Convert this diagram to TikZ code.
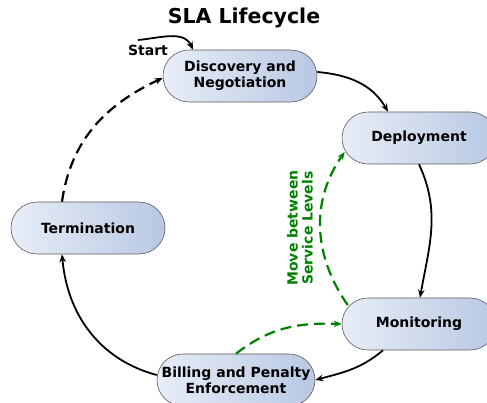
\documentclass[tikz,border=0pt]{standalone}
\usepackage{fontspec}
\setmainfont{DejaVu Sans}
\usetikzlibrary{arrows.meta,calc}
\definecolor{boxleft}{RGB}{232,237,247}
\definecolor{boxright}{RGB}{184,200,227}
\definecolor{boxline}{RGB}{90,90,90}
\definecolor{lvlgreen}{RGB}{0,128,0}
\tikzset{
  phase/.style={rectangle, rounded corners=26pt, minimum width=154pt, minimum height=52pt,
    left color=boxleft, right color=boxright, draw=boxline, line width=0.6pt,
    align=center, font=\fontsize{14}{16}\selectfont\bfseries, inner sep=2pt},
  flow/.style={-{Stealth[length=8pt,width=6.5pt]}, line width=1.8pt, black},
  back/.style={flow, dash pattern=on 11pt off 6pt, line width=2.2pt},
  lvl/.style={-{Stealth[length=8pt,width=6.5pt]}, line width=2.2pt, lvlgreen, dash pattern=on 11pt off 6pt},
  lbl/.style={font=\fontsize{14}{15}\selectfont\bfseries}
}
\begin{document}
\begin{tikzpicture}[x=1pt,y=1pt]
\useasboundingbox (0,0) rectangle (487,403);
\clip (0,0) rectangle (487,403);
\node[font=\fontsize{20.5}{24}\selectfont\bfseries] (title) at (244,385) {SLA Lifecycle};
\node[phase] (disc) at (240,327) {Discovery and\\Negotiation};
\node[phase] (dep) at (419,265) {Deployment};
\node[phase] (term) at (88,175) {Termination};
\node[phase] (mon) at (419,79) {Monitoring};
\node[phase, minimum width=158pt] (bill) at (236,23) {Billing and Penalty\\Enforcement};
\node[lbl] (start) at (148,353) {Start};
\coordinate (s0) at (138,363);
\node[lbl, text=lvlgreen, rotate=90, align=center] (move) at (300,175) {Move between\\Service Levels};
% start
\draw[flow] (s0) to[out=5,in=115] ($(disc.north)+(-47,0)$);
% main cycle
\draw[flow] ($(disc.east)+(0,4)$) to[out=-5,in=120] ($(dep.north)+(-31,0)$);
\draw[flow] (dep.south) to[out=-65,in=80] ($(mon.north)+(1,0)$);
\draw[flow] ($(mon.south)+(-36,0)$) to[out=-140,in=15] ($(bill.east)+(0,0)$);
\draw[flow] ($(bill.west)+(0,5)$) to[out=165,in=-85] ($(term.south)+(-26,0)$);
\draw[back] ($(term.north)+(-26,0)$) to[out=82,in=-155] ($(disc.west)+(0,-2)$);
% green transitions
\draw[lvl] ($(mon.west)+(6,19)$) to[out=125,in=-125] ($(dep.west)+(3,-14)$);
\draw[lvl] (bill.north) to[out=38,in=178] (mon.west);
\end{tikzpicture}
\end{document}
